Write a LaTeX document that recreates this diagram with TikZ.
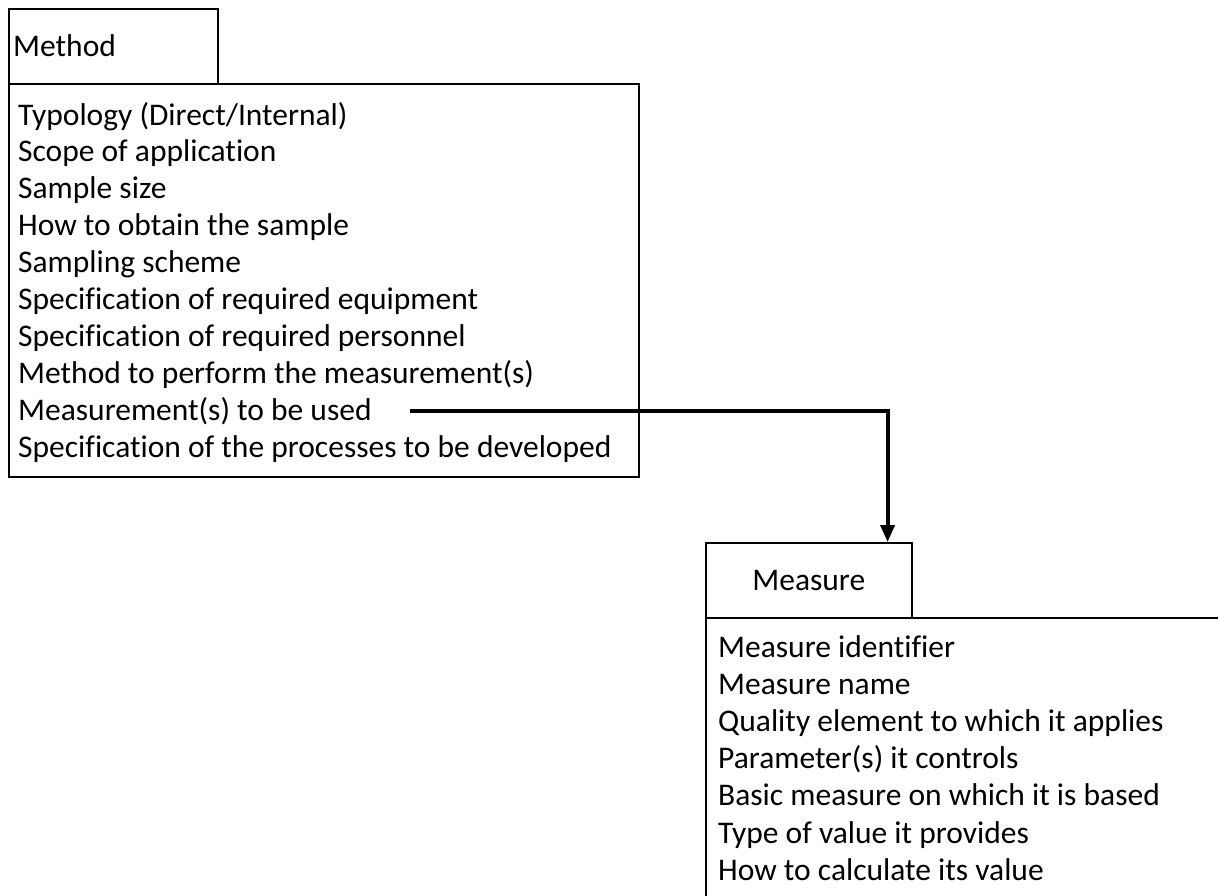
\documentclass[tikz,border=0pt]{standalone}
\usepackage{fontspec}
\setmainfont{Carlito}[Ligatures=NoCommon]
\usetikzlibrary{positioning,arrows.meta}
\tikzset{
  tabbox/.style={draw,line width=1.6pt,anchor=north west,inner sep=0pt},
  itemline/.style={anchor=base west,inner sep=0pt,font=\fontsize{31.5}{37}\selectfont},
  linkarrow/.style={line width=3.8pt,-{Triangle[length=17pt,width=14pt]}},
}

\begin{document}
\begin{tikzpicture}[x=1pt,y=-1pt]
  \useasboundingbox (0,0) rectangle (1218,895);
  \clip (0,0) rectangle (1218,895);
  % Method class
  \node[tabbox,minimum width=209pt,minimum height=75pt] (mtab) at (8,8) {};
  \node[tabbox,minimum width=630pt,minimum height=393pt] (mbody) at (8,83) {};
  \node[itemline] (mtitle) at (13,56) {Method};
  \foreach \txt [count=\i] in {Typology (Direct/Internal),Scope of application,Sample size,
      How to obtain the sample,Sampling scheme,Specification of required equipment,
      Specification of required personnel,Method to perform the measurement(s),
      Measurement(s) to be used,Specification of the processes to be developed}
    \node[itemline] (m\i) at (18,{125+36.9*(\i-1)}) {\txt};
  % Measure class
  \node[tabbox,minimum width=206pt,minimum height=75pt] (stab) at (705,542) {};
  \node[tabbox,minimum width=600pt,minimum height=400pt] (sbody) at (705,617) {};
  \node[itemline,anchor=base] (stitle) at ([yshift=-10pt]stab.center) {Measure};
  \foreach \txt [count=\i] in {Measure identifier,Measure name,Quality element to which it applies,
      Parameter(s) it controls,Basic measure on which it is based,Type of value it provides,
      How to calculate its value}
    \node[itemline] (s\i) at (718,{657+37.2*(\i-1)}) {\txt};
  % link
  \draw[linkarrow] ([xshift=38pt]m9.east) -| ([xshift=-25pt]stab.north east);
\end{tikzpicture}
\end{document}
